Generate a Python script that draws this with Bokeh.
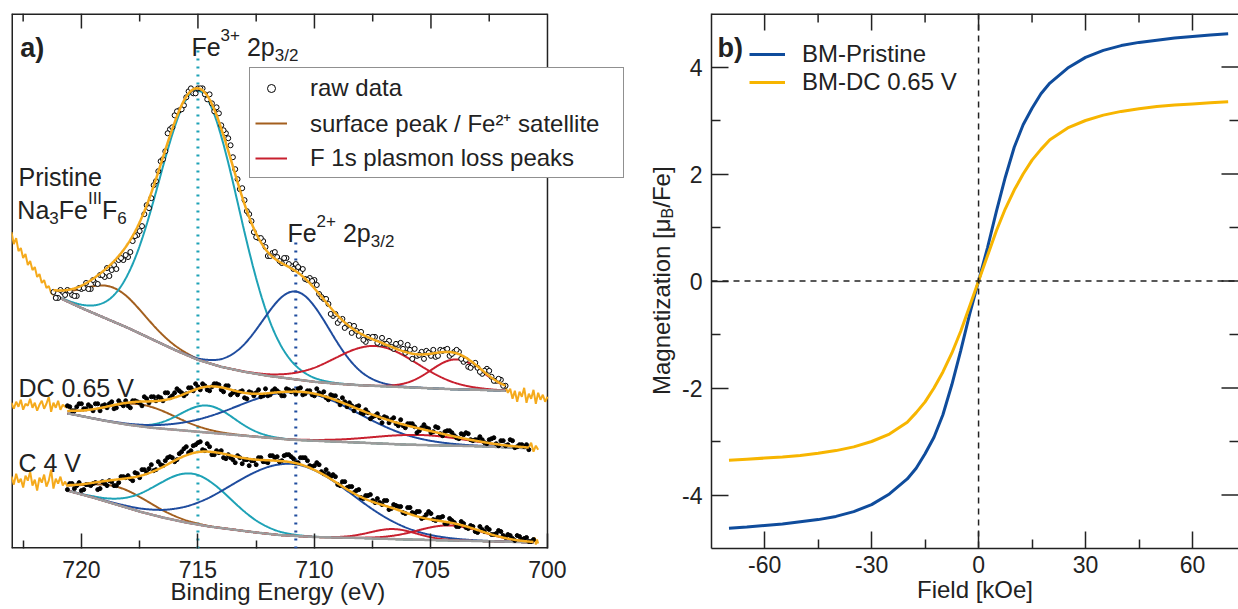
import numpy as np
from math import pi
from bokeh.plotting import figure
from bokeh.layouts import row
from bokeh.models import Range1d, FixedTicker, Label, Legend, LegendItem, Span, Title
from bokeh.embed import file_html
from bokeh.resources import INLINE

FONT = "Liberation Sans"
INK = "#222222"

# ======================= (a) XPS Fe 2p3/2 =======================
# raw data (intensity, arb. units, spectra stacked); main grid 0.2 eV, "mid" grid shifted by 0.1 eV
pristine_raw_start, pristine_raw_end = 721.2, 701.8
pristine_raw = [257, 251, 257, 259, 254, 253, 260, 266, 260, 266, 274, 272, 273, 284, 289, 289,
                292, 308, 314, 323, 344, 351, 368, 388, 398, 420, 434, 439, 444, 458, 456, 461,
                461, 450, 446, 442, 424, 416, 404, 380, 360, 349, 335, 317, 311, 308, 293, 296,
                292, 286, 291, 283, 285, 277, 270, 271, 269, 255, 250, 245, 233, 226, 230, 223,
                216, 218, 217, 207, 211, 212, 205, 205, 208, 200, 204, 200, 204, 190, 193, 197,
                198, 193, 192, 199, 199, 193, 197, 197, 187, 182, 184, 181, 175, 180, 172, 168,
                169, 163]
pristine_mid_start, pristine_mid_end = 721.1, 701.9
pristine_mid = [251, 259, 254, 258, 253, 261, 261, 260, 269, 265, 274, 281, 279, 280, 291, 294,
                297, 313, 318, 335, 341, 364, 378, 390, 416, 422, 438, 440, 452, 461, 456, 461,
                455, 455, 438, 436, 419, 411, 392, 370, 361, 338, 328, 312, 311, 302, 293, 297,
                288, 291, 285, 280, 282, 280, 269, 268, 264, 252, 250, 235, 235, 229, 221, 224,
                223, 213, 209, 212, 212, 206, 211, 205, 202, 205, 206, 196, 199, 200, 194, 190,
                196, 199, 193, 198, 200, 195, 199, 190, 189, 181, 186, 177, 178, 178, 168, 170, 163]
dc_raw_start, dc_raw_end = 720.6, 700.8
dc_raw = [143, 138, 142, 145, 140, 142, 145, 138, 144, 145, 140, 148, 143, 143, 148, 147, 143,
          150, 152, 148, 151, 156, 151, 156, 158, 153, 161, 158, 162, 165, 159, 162, 165, 159,
          163, 154, 157, 157, 151, 157, 153, 159, 153, 153, 158, 158, 153, 160, 157, 155, 161,
          155, 158, 153, 156, 157, 149, 153, 148, 151, 142, 143, 142, 136, 139, 130, 133, 131,
          132, 126, 131, 123, 123, 125, 125, 116, 121, 121, 116, 122, 115, 117, 118, 113, 110,
          114, 115, 108, 109, 109, 105, 110, 105, 108, 103, 109, 101, 104, 102, 99]
dc_mid_start, dc_mid_end = 720.5, 700.9
dc_mid = [142, 138, 145, 140, 144, 138, 145, 143, 141, 147, 141, 145, 148, 141, 148, 146, 152,
          146, 152, 152, 148, 156, 153, 160, 156, 155, 161, 165, 159, 163, 158, 165, 164, 157,
          163, 156, 154, 158, 150, 156, 156, 152, 160, 154, 160, 156, 153, 159, 158, 160, 154,
          158, 154, 160, 154, 151, 154, 153, 144, 147, 146, 138, 143, 135, 136, 132, 135, 126,
          131, 129, 125, 129, 121, 125, 122, 118, 124, 120, 117, 121, 113, 118, 116, 111, 115,
          116, 109, 109, 112, 106, 109, 111, 103, 108, 104, 108, 102, 104, 104]
c4_raw_start, c4_raw_end = 720.6, 700.6
c4_raw = [59, 65, 63, 58, 64, 63, 66, 60, 65, 68, 63, 66, 72, 73, 68, 75, 79, 76, 84, 79, 84,
          88, 92, 87, 95, 100, 96, 103, 106, 99, 105, 94, 98, 98, 90, 91, 86, 91, 89, 83, 88,
          91, 87, 86, 93, 92, 88, 94, 92, 86, 91, 91, 83, 83, 84, 75, 75, 74, 64, 67, 61, 62,
          58, 51, 53, 54, 46, 46, 48, 39, 44, 42, 36, 41, 36, 37, 30, 34, 35, 28, 31, 25, 30,
          26, 22, 25, 20, 22, 16, 19, 21, 14, 15, 17, 11, 13, 8, 12, 10, 7, 9]
c4_mid_start, c4_mid_end = 720.5, 700.7
c4_mid = [65, 60, 66, 59, 64, 65, 59, 67, 63, 67, 63, 72, 71, 70, 76, 71, 79, 80, 78, 87,
          83, 91, 91, 89, 97, 102, 98, 104, 107, 98, 102, 94, 96, 91, 94, 89, 93, 85, 89, 88,
          84, 91, 87, 93, 91, 87, 93, 94, 90, 86, 91, 88, 82, 86, 77, 79, 72, 72, 63, 67,
          62, 56, 59, 50, 53, 48, 50, 44, 48, 40, 43, 42, 35, 41, 35, 37, 31, 37, 29, 31,
          32, 25, 28, 22, 27, 21, 23, 17, 22, 17, 19, 14, 18, 13, 14, 10, 13, 9, 11, 7]

# raw signal outside the fitted windows (0.1 eV steps)
pristine_left = [317, 305, 311, 298, 301, 291, 295, 284, 288, 279, 282, 272, 275, 266, 269, 261, 263, 256, 254]
pristine_left_range = (723.0, 721.2)
pristine_right = [162, 156, 160, 150, 158, 147, 157, 152, 161, 146, 155, 150, 159, 145, 156, 149, 154, 147, 152]
pristine_right_range = (701.8, 700.0)
dc_left = [146, 140, 147, 142, 149, 139, 145, 143, 150, 141, 146, 138, 144, 148, 140, 145, 152, 137, 146, 141, 148, 139, 144, 142, 141]
dc_left_range = (723.0, 720.6)
dc_right = [101, 106, 97, 103, 99]
dc_right_range = (700.8, 700.4)
c4_left = [72, 64, 75, 66, 70, 61, 73, 68, 77, 63, 69, 58, 71, 66, 74, 62, 68, 79, 60, 70, 65, 72, 63, 67, 62]
c4_left_range = (723.0, 720.6)
c4_right = [7, 11, 4, 9, 5]
c4_right_range = (700.6, 700.4)

# Shirley-type backgrounds
pristine_bg_E = [721.2, 720, 719, 718, 717, 716, 715, 714, 713, 712, 711, 710, 709, 708, 707, 706, 705, 704, 703, 701.8]
pristine_bg_I = [254, 241, 231, 221, 210, 199, 189, 182, 177, 173, 170, 167, 165, 163.5, 162.5, 161.5, 160.5, 159.5, 159, 158]
dc_bg_E = [720.5, 719, 718, 717, 716, 715, 714, 713, 712, 711, 710, 709, 708, 707, 706, 705, 703, 700.8]
dc_bg_I = [135, 128, 124, 121, 119, 117, 115, 113, 111, 109, 108, 107, 106, 105, 104, 103.5, 102.5, 100.5]
c4_bg_E = [720.6, 719.5, 718.5, 717.5, 716.5, 715.5, 714.5, 713.5, 712.5, 711.5, 710, 708, 706, 704, 702, 700.6]
c4_bg_I = [58, 51, 44, 37, 31, 26, 22, 19, 16, 13.5, 11.5, 10.5, 9, 8, 7, 6]

# fitted components: centre (eV), height above background, width (sigma, eV)
pristine_kind = ["surface", "fe3", "fe2", "plasmon", "plasmon"]
pristine_center = [718.6, 714.95, 710.8, 707.4, 703.9]
pristine_height = [34, 270, 88, 40, 30]
pristine_sigma = [1.3, 1.7, 1.45, 1.8, 1.1]
dc_kind = ["surface", "fe3", "fe2", "plasmon"]
dc_center = [717.5, 714.6, 710.7, 705.5]
dc_height = [22, 27, 48, 10]
dc_sigma = [1.5, 1.15, 2.6, 2.0]
c4_kind = ["surface", "fe3", "fe2", "plasmon", "plasmon"]
c4_center = [718.4, 715.2, 711.0, 706.6, 704.2]
c4_height = [18, 50, 72, 10, 15]
c4_sigma = [1.4, 1.6, 2.6, 1.0, 1.4]

fe3_line_eV = 715.0
fe2_line_eV = 710.8
xps_major = [720, 715, 710, 705, 700]
xps_minor = [722.5, 717.5, 712.5, 707.5, 702.5]

# ======================= (b) magnetization =======================
field_kOe = [-70, -65, -60, -55, -50, -45, -40, -35, -30, -25, -20, -17.5, -15, -12.5, -10, -7.5, -5, -2.5,
             0, 2.5, 5, 7.5, 10, 12.5, 15, 17.5, 20, 25, 30, 35, 40, 45, 50, 55, 60, 65, 70]
m_pristine = [-4.62, -4.60, -4.57, -4.54, -4.50, -4.46, -4.40, -4.31, -4.18, -3.98, -3.70, -3.50, -3.23, -2.92,
              -2.50, -1.94, -1.30, -0.62, 0.0, 0.62, 1.30, 1.94, 2.50, 2.92, 3.23, 3.50, 3.70, 3.98, 4.18,
              4.31, 4.40, 4.46, 4.50, 4.54, 4.57, 4.60, 4.62]
m_dc = [-3.35, -3.33, -3.31, -3.29, -3.26, -3.22, -3.17, -3.10, -3.00, -2.86, -2.64, -2.46, -2.26, -2.00,
        -1.70, -1.35, -0.94, -0.47, 0.0, 0.47, 0.94, 1.35, 1.70, 2.00, 2.26, 2.46, 2.64, 2.86, 3.00,
        3.10, 3.17, 3.22, 3.26, 3.29, 3.31, 3.33, 3.35]
field_major = [-60, -30, 0, 30, 60]
field_minor = [-45, -15, 15, 45]
m_major = [-4, -2, 0, 2, 4]
m_minor = [-3, -1, 1, 3]

COL = {"surface": "#a35f1e", "fe3": "#1ea2b6", "fe2": "#1f4c9e", "plasmon": "#c8202f"}
GRAY = "#9c9c9c"
ENV = "#f5aa1c"
B_BLUE = "#0f4c9c"
B_ORANGE = "#f7b500"

# Arial/Liberation Sans advance widths (1/1000 em) for rich text layout
W = {' ': 278, '/': 278, '+': 584, '(': 333, ')': 333, '[': 278, ']': 278, '-': 333, '.': 278,
     'A': 667, 'B': 667, 'C': 722, 'D': 722, 'E': 667, 'F': 611, 'I': 278, 'M': 833, 'N': 722,
     'P': 667, 'V': 667, 'O': 778, 'a': 556, 'c': 500, 'd': 556, 'e': 556, 'f': 278, 'g': 556,
     'i': 222, 'k': 500, 'l': 222, 'm': 833, 'n': 556, 'o': 556, 'p': 556, 'r': 333, 's': 500,
     't': 278, 'u': 556, 'w': 722, 'y': 500, 'z': 500, '\u03bc': 576}


def tw(s, size):
    return sum(W.get(ch, 556) for ch in s) * size / 1000.0


def rich(p, x, y, pieces, size=25, small=17, rotated=False, x_off=0.0, y_off=0.0, bold=False,
         sub_shift=0.32):
    adv = 0.0
    for txt, kind in pieces:
        fs = size if kind == "n" else small
        body = txt.lstrip(" ")
        adv += (len(txt) - len(body)) * W[' '] * fs / 1000.0
        dy = {"n": 0.0, "sup": size * 0.48, "sub": -size * sub_shift}[kind]
        kw = dict(x=x, y=y, text=body, text_font=FONT, text_font_size=f"{fs}px",
                  text_color=INK, text_baseline="alphabetic", text_align="left",
                  text_font_style="bold" if bold else "normal")
        if rotated:
            lab = Label(x_offset=x_off - dy, y_offset=y_off + adv, angle=pi / 2, **kw)
        else:
            lab = Label(x_offset=x_off + adv, y_offset=y_off + dy, **kw)
        p.add_layout(lab)
        adv += tw(body, fs)


def style_axis(ax, major, minor):
    ax.major_tick_in = major
    ax.major_tick_out = 0
    ax.minor_tick_in = minor
    ax.minor_tick_out = 0
    ax.major_tick_line_color = INK
    ax.minor_tick_line_color = INK
    ax.major_tick_line_width = 1.5
    ax.minor_tick_line_width = 1.5
    ax.major_label_text_font = FONT
    ax.major_label_text_color = INK
    ax.major_label_text_font_size = "23px"
    ax.axis_label_text_font = FONT
    ax.axis_label_text_font_style = "normal"
    ax.axis_label_text_color = INK
    ax.axis_label_text_font_size = "24px"


# ---------------------------- panel a ----------------------------
# frame runs from 723 eV to 700 eV, plus extra room on the right for the legend / neighbour title
PX_PER_EV = 23.3
A_WIDTH = 679
A_FRAME_RIGHT_EV = 700 - (A_WIDTH - 547) / PX_PER_EV
pa = figure(width=A_WIDTH, height=609, x_range=Range1d(723, A_FRAME_RIGHT_EV), y_range=Range1d(0, 536),
            output_backend="svg", toolbar_location=None, y_axis_location=None,
            min_border_left=11, min_border_right=0, min_border_top=13, min_border_bottom=60)
pa.xgrid.visible = False
pa.ygrid.visible = False
pa.outline_line_color = None
pa.background_fill_color = "white"
pa.border_fill_color = "white"

xa = pa.xaxis[0]
xa.ticker = FixedTicker(ticks=xps_major, minor_ticks=xps_minor)
style_axis(xa, 15, 8)
xa.axis_line_color = None
xa.major_label_standoff = 12
x_title = Title(text="Binding Energy (eV)", align="left", offset=159, standoff=0,
                text_font=FONT, text_font_size="24px", text_font_style="normal", text_color=INK)
try:
    x_title.standoff = -10
except Exception:
    xa.major_label_standoff = 9
pa.add_layout(x_title, "below")

# visible frame of panel a and its top ticks
pa.segment(x0=[723, 700, 723, 723], y0=[0, 0, 0, 536], x1=[723, 700, 700, 700], y1=[536, 536, 0, 536],
           line_color=INK, line_width=[3, 1.5, 3, 3])
pa.segment(x0=xps_major[:-1], y0=[536] * 4, x1=xps_major[:-1], y1=[521] * 4, line_color=INK, line_width=1.5)
pa.segment(x0=xps_minor, y0=[536] * 5, x1=xps_minor, y1=[528] * 5, line_color=INK, line_width=1.5)

legend_renderers = {}


def draw_spectrum(bgE, bgI, kinds, centers, heights, sigmas, raw_start, raw_end, raw,
                  mid_start, mid_end, mid, left, left_rng, right, right_rng, open_marker):
    E = np.linspace(raw_start, raw_end, 700)
    bg = np.interp(E, bgE[::-1], bgI[::-1])
    env = bg.copy()
    for k, c, h, s in zip(kinds, centers, heights, sigmas):
        comp = h * np.exp(-0.5 * ((E - c) / s) ** 2)
        env = env + comp
        r = pa.line(E, bg + comp, line_color=COL[k], line_width=2)
        legend_renderers.setdefault(k, r)
    pa.line(E, bg, line_color=GRAY, line_width=2.5)
    pa.line(np.linspace(left_rng[0], left_rng[1], len(left)), left, line_color=ENV, line_width=2)
    pa.line(np.linspace(right_rng[0], right_rng[1], len(right)), right, line_color=ENV, line_width=2)
    rE = np.linspace(raw_start, raw_end, len(raw))
    mE = np.linspace(mid_start, mid_end, len(mid))
    if open_marker:
        rr = pa.scatter(rE, raw, marker="circle", size=5, line_color="black", line_width=1,
                        fill_color="white")
        pa.scatter(mE, mid, marker="circle", size=5, line_color="black", line_width=1,
                   fill_color="white")
        legend_renderers.setdefault("raw", rr)
    else:
        pa.scatter(rE, raw, marker="circle", size=4, line_color="black", fill_color="black")
        pa.scatter(mE, mid, marker="circle", size=4, line_color="black", fill_color="black")
    pa.line(E, env, line_color=ENV, line_width=2.5)


# dotted guide lines
pa.segment(x0=[fe3_line_eV], y0=[0], x1=[fe3_line_eV], y1=[499], line_color=COL["fe3"],
           line_width=3, line_dash="2 6")
pa.segment(x0=[fe2_line_eV], y0=[0], x1=[fe2_line_eV], y1=[311], line_color=COL["fe2"],
           line_width=3, line_dash="2 6")

draw_spectrum(pristine_bg_E, pristine_bg_I, pristine_kind, pristine_center, pristine_height,
              pristine_sigma, pristine_raw_start, pristine_raw_end, pristine_raw,
              pristine_mid_start, pristine_mid_end, pristine_mid,
              pristine_left, pristine_left_range, pristine_right, pristine_right_range, True)
draw_spectrum(dc_bg_E, dc_bg_I, dc_kind, dc_center, dc_height, dc_sigma, dc_raw_start, dc_raw_end,
              dc_raw, dc_mid_start, dc_mid_end, dc_mid, dc_left, dc_left_range, dc_right,
              dc_right_range, False)
draw_spectrum(c4_bg_E, c4_bg_I, c4_kind, c4_center, c4_height, c4_sigma, c4_raw_start, c4_raw_end,
              c4_raw, c4_mid_start, c4_mid_end, c4_mid, c4_left, c4_left_range, c4_right,
              c4_right_range, False)

leg_a = Legend(items=[LegendItem(label="raw data", renderers=[legend_renderers["raw"]]),
                      LegendItem(label="surface peak / Fe\u00b2\u207a satellite",
                                 renderers=[legend_renderers["surface"]]),
                      LegendItem(label="F 1s plasmon loss peaks", renderers=[legend_renderers["plasmon"]])],
               location=(238, 370), label_text_font=FONT, label_text_font_size="24px",
               label_text_color=INK, glyph_width=32, glyph_height=20, label_standoff=23,
               padding=5, spacing=4, margin=0, label_width=308, label_height=29,
               border_line_color=INK, border_line_width=1.5, background_fill_color="white",
               background_fill_alpha=1.0)
pa.add_layout(leg_a)

# annotations (panel a)
rich(pa, 722.62, 501, [("a)", "n")], size=27, bold=True)
rich(pa, 715.28, 502, [("Fe", "n"), ("3+", "sup"), (" 2p", "n"), ("3/2", "sub")])
rich(pa, 711.16, 316, [("Fe", "n"), ("2+", "sup"), (" 2p", "n"), ("3/2", "sub")])
rich(pa, 722.7, 372, [("Pristine", "n")])
rich(pa, 722.75, 339, [("Na", "n"), ("3", "sub"), ("Fe", "n"), ("III", "sup"), ("F", "n"), ("6", "sub")])
rich(pa, 722.7, 161, [("DC 0.65 V", "n")])
rich(pa, 722.7, 86, [("C 4 V", "n")])
# y-axis title of panel b (sits in the gap between the panels)
rich(pa, 700 - (661 - 547) / PX_PER_EV, 268,
     [("Magnetization [\u03bc", "n"), ("B", "sub"), ("/Fe]", "n")],
     size=24, small=16, rotated=True, y_off=-114, sub_shift=0.25)

# ---------------------------- panel b ----------------------------
B_X0, B_X1 = -74.9, 72.9
pb = figure(width=1238 - A_WIDTH, height=609, x_range=Range1d(B_X0, B_X1), y_range=Range1d(-5, 5),
            output_backend="svg", toolbar_location=None,
            min_border_left=711 - A_WIDTH, min_border_right=0, min_border_top=13, min_border_bottom=61)
pb.xgrid.visible = False
pb.ygrid.visible = False
pb.outline_line_color = None
pb.background_fill_color = "white"
pb.border_fill_color = "white"

xb = pb.xaxis[0]
xb.ticker = FixedTicker(ticks=field_major, minor_ticks=field_minor)
style_axis(xb, 17, 9)
xb.axis_line_color = INK
xb.axis_line_width = 1.5
xb.major_label_standoff = 7
xb.major_label_overrides = {v: str(v) for v in field_major}
xb.axis_label = "Field [kOe]"
xb.axis_label_standoff = 0
yb = pb.yaxis[0]
yb.ticker = FixedTicker(ticks=m_major, minor_ticks=m_minor)
style_axis(yb, 17, 9)
yb.axis_line_color = INK
yb.axis_line_width = 1.5
yb.major_label_standoff = 9
yb.major_label_overrides = {v: str(v) for v in m_major}

# top frame line, top ticks and right-hand ticks (right frame edge lies at the window edge)
px_x = 527 / (B_X1 - B_X0)
px_y = 535 / 10.0
pb.segment(x0=[B_X0], y0=[5], x1=[B_X1], y1=[5], line_color=INK, line_width=3)
pb.segment(x0=field_major, y0=[5] * 5, x1=field_major, y1=[5 - 17 / px_y] * 5, line_color=INK, line_width=1.5)
pb.segment(x0=field_minor, y0=[5] * 4, x1=field_minor, y1=[5 - 9 / px_y] * 4, line_color=INK, line_width=1.5)
pb.segment(x0=[B_X1] * 5, y0=m_major, x1=[B_X1 - 17 / px_x] * 5, y1=m_major, line_color=INK, line_width=1.5)
pb.segment(x0=[B_X1] * 4, y0=m_minor, x1=[B_X1 - 9 / px_x] * 4, y1=m_minor, line_color=INK, line_width=1.5)

pb.add_layout(Span(location=0, dimension="height", line_color=INK, line_width=1.5, line_dash="6 5"))
pb.add_layout(Span(location=0, dimension="width", line_color=INK, line_width=1.5, line_dash="6 5"))

rb1 = pb.line(field_kOe, m_pristine, line_color=B_BLUE, line_width=3)
rb2 = pb.line(field_kOe, m_dc, line_color=B_ORANGE, line_width=3)

leg_b = Legend(items=[LegendItem(label="BM-Pristine", renderers=[rb1]),
                      LegendItem(label="BM-DC 0.65 V", renderers=[rb2])],
               location=(38, 452), label_text_font=FONT, label_text_font_size="24px",
               label_text_color=INK, glyph_width=36, glyph_height=20, label_standoff=17,
               padding=5, spacing=0, margin=0, label_height=27,
               border_line_color=None, background_fill_alpha=0.0)
pb.add_layout(leg_b)

rich(pb, -73.2, 4.355, [("b)", "n")], size=27, bold=True)

layout = row(pa, pb)
open("out.html", "w").write(file_html(layout, INLINE))
